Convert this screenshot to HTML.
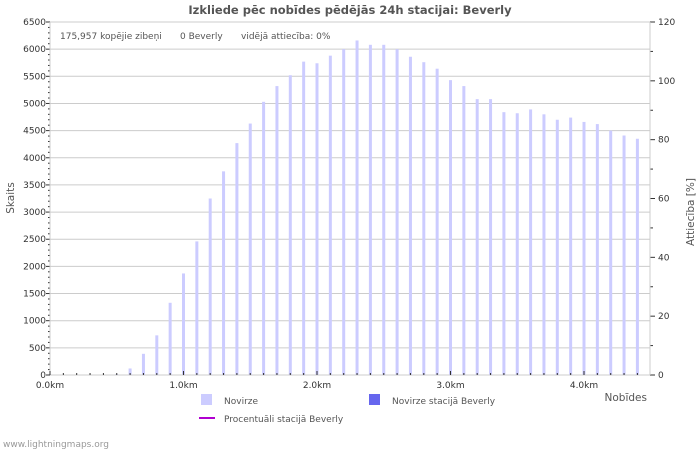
<!DOCTYPE html>
<html><head><meta charset="utf-8"><style>
body{margin:0;background:#fff;font-family:"Liberation Sans","DejaVu Sans",sans-serif}
svg text{font-family:"DejaVu Sans","Liberation Sans",sans-serif}
</style></head><body>
<svg id="c" width="700" height="450">
<text x="350" y="14" font-size="11.5" font-weight="bold" fill="#555" text-anchor="middle">Izkliede pēc nobīdes pēdējās 24h stacijai: Beverly</text>
<g id="grid"></g><g id="bars"></g><g id="axes"></g>
<g font-size="9" fill="#555">
<text x="60" y="39">175,957 kopējie zibeņi</text>
<text x="180" y="39">0 Beverly</text>
<text x="241" y="39">vidējā attiecība: 0%</text>
</g>
<text x="14" y="198" font-size="10.5" fill="#555" text-anchor="middle" transform="rotate(-90 14 198)">Skaits</text>
<text x="694" y="212" font-size="10.5" fill="#555" text-anchor="middle" transform="rotate(-90 694 212)">Attiecība [%]</text>
<text x="647" y="401" font-size="10.5" fill="#555" text-anchor="end">Nobīdes</text>
<g><rect x="201" y="394" width="11" height="11" fill="#ccccff"/><text x="224" y="404" font-size="9" fill="#555">Novirze</text></g>
<g><rect x="369" y="394" width="11" height="11" fill="#6666ee"/><text x="392" y="404" font-size="9" fill="#555">Novirze stacijā Beverly</text></g>
<g><line x1="199" y1="418" x2="215" y2="418" stroke="#b000d0" stroke-width="2"/><text x="224" y="422" font-size="9" fill="#555">Procentuāli stacijā Beverly</text></g>
<text x="3" y="447" font-size="9" fill="#999">www.lightningmaps.org</text>
</svg>
<script>
const categoriesKm=[0,0.1,0.2,0.3,0.4,0.5,0.6,0.7,0.8,0.9,1.0,1.1,1.2,1.3,1.4,1.5,1.6,1.7,1.8,1.9,2.0,2.1,2.2,2.3,2.4,2.5,2.6,2.7,2.8,2.9,3.0,3.1,3.2,3.3,3.4,3.5,3.6,3.7,3.8,3.9,4.0,4.1,4.2,4.3,4.4];
const countValues=[10,0,0,0,5,15,120,390,730,1330,1870,2460,3250,3750,4270,4630,5030,5320,5520,5770,5740,5880,6000,6160,6080,6080,6000,5860,5760,5640,5430,5320,5080,5080,4840,4820,4890,4800,4700,4740,4660,4620,4500,4410,4350];
const stationValues=categoriesKm.map(()=>0);
const yTicks=[0,500,1000,1500,2000,2500,3000,3500,4000,4500,5000,5500,6000,6500];
const y2Ticks=[0,20,40,60,80,100,120];
const xTicks=[0,1,2,3,4];
const L=50,R=650,T=22,B=375;
const x=v=>L+v*133.5, y=v=>B-v/6500*(B-T), y2=v=>B-v/120*(B-T);
const NS="http://www.w3.org/2000/svg";
function mk(p,t,a){const e=document.createElementNS(NS,t);for(const k in a)e.setAttribute(k,a[k]);document.getElementById(p).appendChild(e);return e;}
yTicks.forEach(v=>{const g=mk('grid','line',{x1:L,x2:R,y1:y(v),y2:y(v),stroke:'#ccc'});


const t=mk('axes','text',{x:L-4,y:y(v)+3,'font-size':9,fill:'#333','text-anchor':'end'});t.textContent=v;

});
for(let v=0;v<=6500;v+=100)mk('axes','line',{x1:L-(v%500?2:4),x2:L,y1:y(v),y2:y(v),stroke:'#333'});
y2Ticks.forEach(v=>{const t=mk('axes','text',{x:R+8,y:y2(v)+3,'font-size':9,fill:'#333'});t.textContent=v;

});
for(let v=0;v<=120;v+=10)mk('axes','line',{x1:R,x2:R+(v%20?3:5),y1:y2(v),y2:y2(v),stroke:'#333'});
mk('axes','line',{x1:L,x2:L,y1:T,y2:B,stroke:'#ccc'});
mk('axes','line',{x1:R,x2:R,y1:T,y2:B,stroke:'#ccc'});
mk('axes','line',{x1:L,x2:R,y1:B,y2:B,stroke:'#ccc'});
categoriesKm.forEach((c,i)=>{mk('axes','line',{x1:x(c),x2:x(c),y1:B,y2:B-(i%10?2:4),stroke:'#333'});
const b=mk('bars','rect',{x:x(c)-1.5,y:y(countValues[i]),width:3,height:B-y(countValues[i]),fill:'#ccccff'});


if(stationValues[i]>0){const s=mk('bars','rect',{x:x(c)-1.5,y:y(stationValues[i]),width:3,height:B-y(stationValues[i]),fill:'#6666ee'});

}});
xTicks.forEach(v=>{const t=mk('axes','text',{x:x(v),y:B+13,'font-size':9,fill:'#333','text-anchor':'middle'});t.textContent=v.toFixed(1)+'km';

});
</script>
</body></html>
